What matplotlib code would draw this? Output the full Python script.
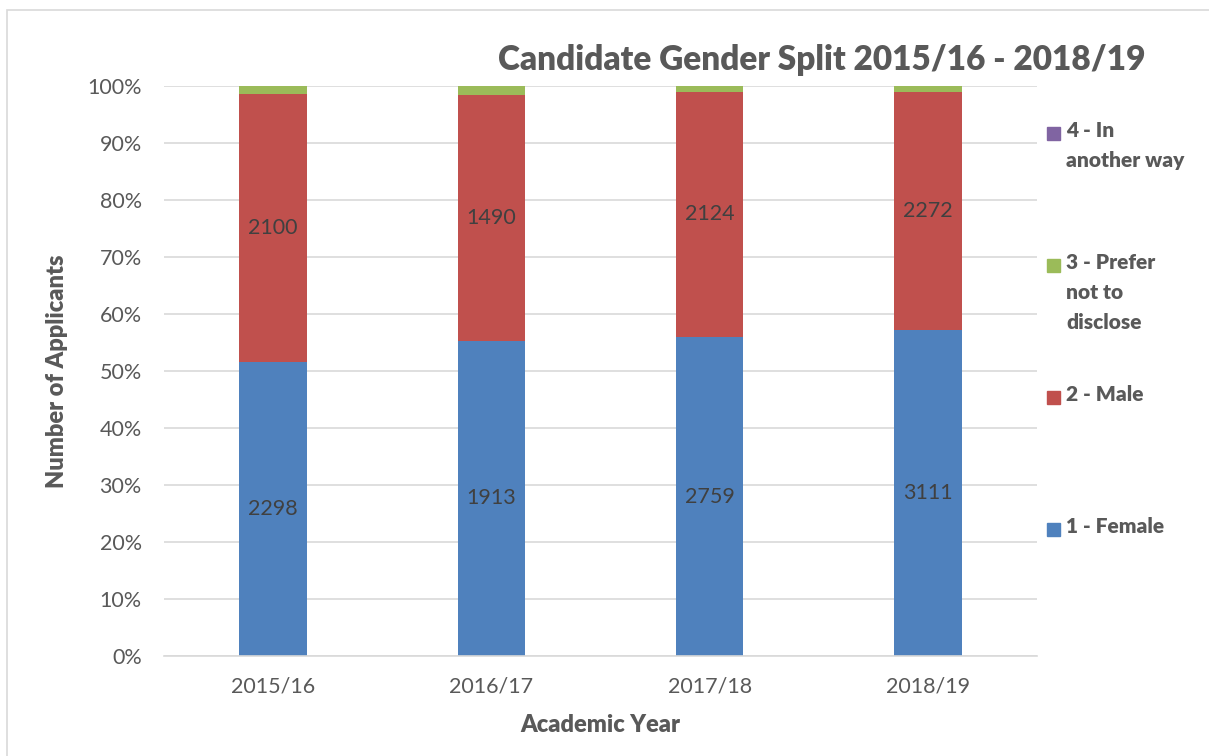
import matplotlib.pyplot as plt
from matplotlib.patches import Rectangle
import numpy as np

plt.rcParams['font.family'] = ['Lato', 'DejaVu Sans']

years = ["2015/16", "2016/17", "2017/18", "2018/19"]
female = np.array([2298, 1913, 2759, 3111])
male = np.array([2100, 1490, 2124, 2272])
prefer_not = np.array([60, 55, 49, 60])
another_way = np.array([0, 0, 0, 0])

series = [("1 - Female", female, "#4F81BD"),
          ("2 - Male", male, "#C0504D"),
          ("3 - Prefer\nnot to\ndisclose", prefer_not, "#9BBB59"),
          ("4 - In\nanother way", another_way, "#8064A2")]

total = female + male + prefer_not + another_way
txt = "#595959"
bold = "heavy"

fig = plt.figure(figsize=(12.09, 7.56), dpi=100)
ax = fig.add_axes([164/1209, 1 - 656/756, (1037-164)/1209, (656-86)/756])

x = np.arange(len(years))
bottom = np.zeros(len(years))
for name, vals, col in series:
    frac = vals / total * 100
    ax.bar(x, frac, 0.31, bottom=bottom, color=col, zorder=2)
    if name.startswith("1") or name.startswith("2"):
        for xi, b, f, v in zip(x, bottom, frac, vals):
            ax.text(xi, b + f / 2, str(v), ha="center", va="center",
                    fontsize=15.5, color="#404040", zorder=3)
    bottom += frac

ax.set_xlim(-0.5, len(years) - 0.5)
ax.set_ylim(0, 100)
ax.set_yticks(np.arange(0, 101, 10))
ax.set_yticklabels([f"{v}%" for v in range(0, 101, 10)])
ax.set_xticks(x)
ax.set_xticklabels(years)
ax.tick_params(length=0, labelsize=15.5, labelcolor=txt)
ax.tick_params(axis="y", pad=16)
ax.tick_params(axis="x", pad=15)
ax.grid(axis="y", color="#D9D9D9", lw=1.2, zorder=0)
for s in ["top", "right", "left"]:
    ax.spines[s].set_visible(False)
ax.spines["bottom"].set_color("#D9D9D9")
ax.spines["bottom"].set_linewidth(1.2)

ax.set_ylabel("Number of Applicants", fontsize=17, fontweight=bold, color=txt, labelpad=14)
ax.set_xlabel("Academic Year", fontsize=17, fontweight=bold, color=txt, labelpad=12)

fig.text(822/1209, 1 - 60/756, "Candidate Gender Split 2015/16 - 2018/19",
         ha="center", va="center", fontsize=24, fontweight=bold, color=txt)

# legend, top entry first
leg_y = [133, 265, 397, 529]
for (name, vals, col), yy in zip(series[::-1], leg_y):
    fig.patches.append(Rectangle((1047/1209, 1 - (yy + 7)/756), 13/1209, 13/756,
                                 transform=fig.transFigure, color=col))
    fig.text(1066/1209, 1 - (yy - 12)/756, name, ha="left", va="top",
             fontsize=15, fontweight=bold, color=txt, linespacing=1.7)

# chart border
fig.patches.append(Rectangle((7/1209, -0.05), 1.2, 1 - 10/756 + 0.05,
                             transform=fig.transFigure, fill=False,
                             ec="#D9D9D9", lw=1.2))

fig.savefig("out.png", dpi=100)
